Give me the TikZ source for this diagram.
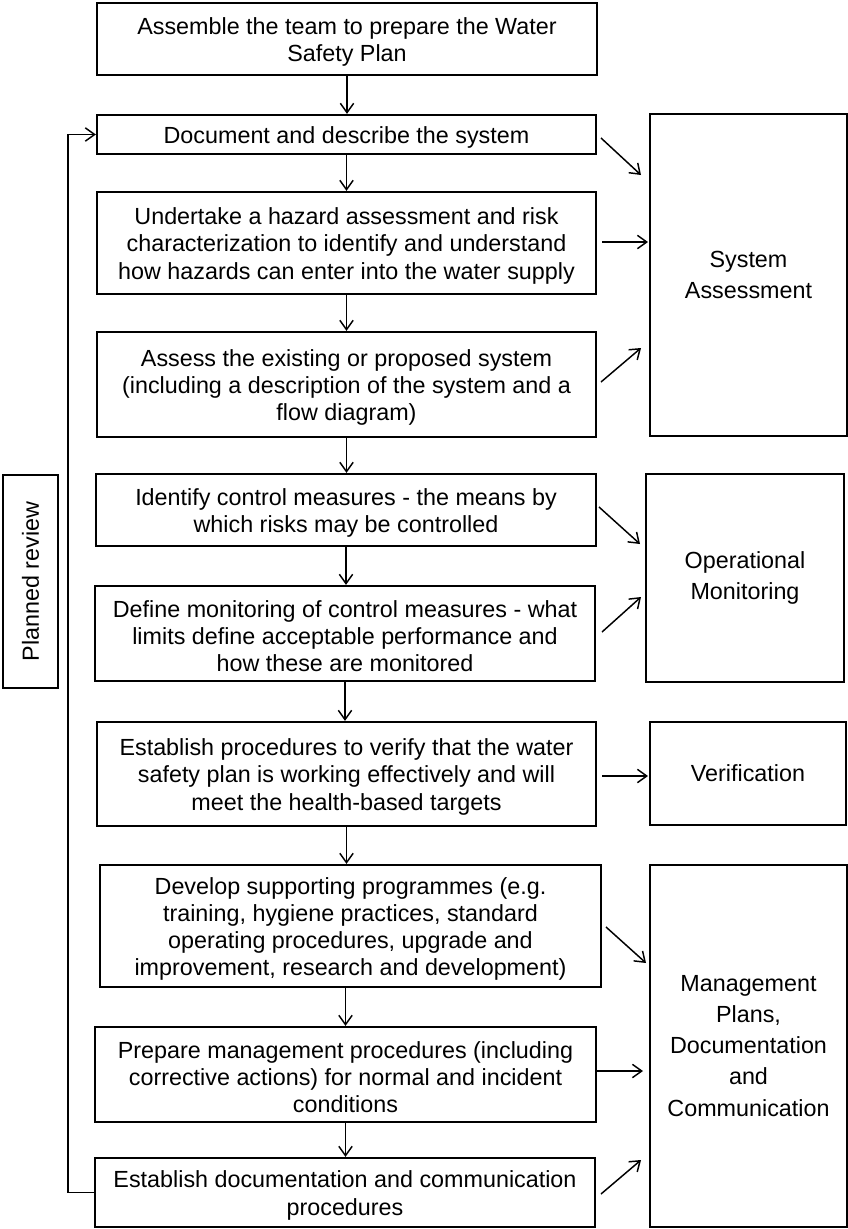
\documentclass[tikz,border=0pt]{standalone}
\usepackage{fontspec}
\setmainfont{Liberation Sans}
\usetikzlibrary{arrows.meta,calc}
\begin{document}
\begin{tikzpicture}[x=0.75pt,y=-0.75pt,
  stepbox/.style={draw, line width=1.7pt, inner sep=0pt},
  steptext/.style={align=center, inner sep=0pt, yshift=-2.2pt,
    font=\fontsize{17.5}{20.3}\selectfont},
  sidebox/.style={draw, line width=1.4pt, align=center, inner sep=0pt,
    font=\fontsize{17.5}{23.3}\selectfont},
  arr/.style={line width=1.1pt, -{Straight Barb[length=7pt,width=10pt]}}]
\useasboundingbox (0,0) rectangle (848,1229);

% main steps
\node[stepbox, minimum width=375pt, minimum height=54pt,
  label={[steptext]center:{Assemble the team to prepare the Water\\Safety Plan}}] (b1) at (347,39) {};
\node[stepbox, minimum width=374.25pt, minimum height=29.25pt,
  label={[steptext]center:{Document and describe the system}}] (b2) at (346.5,134.5) {};
\node[stepbox, minimum width=374.25pt, minimum height=76.5pt,
  label={[steptext]center:{Undertake a hazard assessment and risk\\characterization to identify and understand\\how hazards can enter into the water supply}}] (b3) at (346.5,243) {};
\node[stepbox, minimum width=374.25pt, minimum height=78.75pt,
  label={[steptext]center:{Assess the existing or proposed system\\(including a description of the system and a\\flow diagram)}}] (b4) at (346.5,384.5) {};
\node[stepbox, minimum width=375pt, minimum height=54pt,
  label={[steptext]center:{Identify control measures - the means by\\which risks may be controlled}}] (b5) at (346,510) {};
\node[stepbox, minimum width=375pt, minimum height=71.25pt,
  label={[steptext]center:{Define monitoring of control measures - what\\limits define acceptable performance and\\how these are monitored}}] (b6) at (345,633.5) {};
\node[stepbox, minimum width=374.25pt, minimum height=78pt,
  label={[steptext]center:{Establish procedures to verify that the water\\safety plan is working effectively and will\\meet the health-based targets}}] (b7) at (346.5,774) {};
\node[stepbox, minimum width=375.75pt, minimum height=91.5pt,
  label={[steptext]center:{Develop supporting programmes (e.g.\\training, hygiene practices, standard\\operating procedures, upgrade and\\improvement, research and development)}}] (b8) at (350.5,926) {};
\node[stepbox, minimum width=375.75pt, minimum height=71.25pt,
  label={[steptext]center:{Prepare management procedures (including\\corrective actions) for normal and incident\\conditions}}] (b9) at (345.5,1074.5) {};
\node[stepbox, minimum width=375pt, minimum height=51.75pt,
  label={[steptext]center:{Establish documentation and communication\\procedures}}] (b10) at (345,1192.5) {};

% side boxes
\node[sidebox, minimum width=147.75pt, minimum height=241.5pt] (sa) at (748.5,275)
  {System\\Assessment};
\node[sidebox, minimum width=148.5pt, minimum height=156pt] (om) at (745,578)
  {Operational\\Monitoring};
\node[sidebox, minimum width=147pt, minimum height=77.25pt] (ver) at (748,773.5)
  {Verification};
\node[sidebox, minimum width=147.75pt, minimum height=271.5pt] (mg) at (748.5,1046)
  {Management\\Plans,\\Documentation\\and\\Communication};

% planned review
\node[sidebox, rotate=90, minimum width=159.75pt, minimum height=41.25pt] (pr) at (30.5,581.5)
  {Planned review};

% vertical arrows
\draw[arr] (b1.south) -- (b1.south |- b2.north);
\draw[arr] (b2.south) -- (b2.south |- b3.north);
\draw[arr] (b3.south) -- (b3.south |- b4.north);
\draw[arr] (b4.south) -- (b4.south |- b5.north);
\draw[arr] (b5.south) -- (b5.south |- b6.north);
\draw[arr] (b6.south) -- (b6.south |- b7.north);
\draw[arr] (b7.south) -- (b7.south |- b8.north);
\draw[arr] (b9.north |- b8.south) -- (b9.north);
\draw[arr] (b9.south) -- (b9.south |- b10.north);

% feedback loop
\draw[arr] (b10.west) -- ++(-26,0) |- (b2.west);

% side arrows
\coordinate (c1s) at (601,138);  \coordinate (c1e) at (641,175);
\coordinate (c2s) at (602,242);  \coordinate (c2e) at (648,242);
\coordinate (c3s) at (601,382);  \coordinate (c3e) at (641,348);
\coordinate (c4s) at (599,507);  \coordinate (c4e) at (640,544);
\coordinate (c5s) at (602,632);  \coordinate (c5e) at (641,597);
\coordinate (c6s) at (602,776);  \coordinate (c6e) at (648,776);
\coordinate (c7s) at (606,927);  \coordinate (c7e) at (646,963);
\coordinate (c8s) at (597,1071); \coordinate (c8e) at (643,1071);
\coordinate (c9s) at (601,1194); \coordinate (c9e) at (641,1160);
\foreach \i in {1,...,9} {\draw[arr] (c\i s) -- (c\i e);}
\end{tikzpicture}
\end{document}
